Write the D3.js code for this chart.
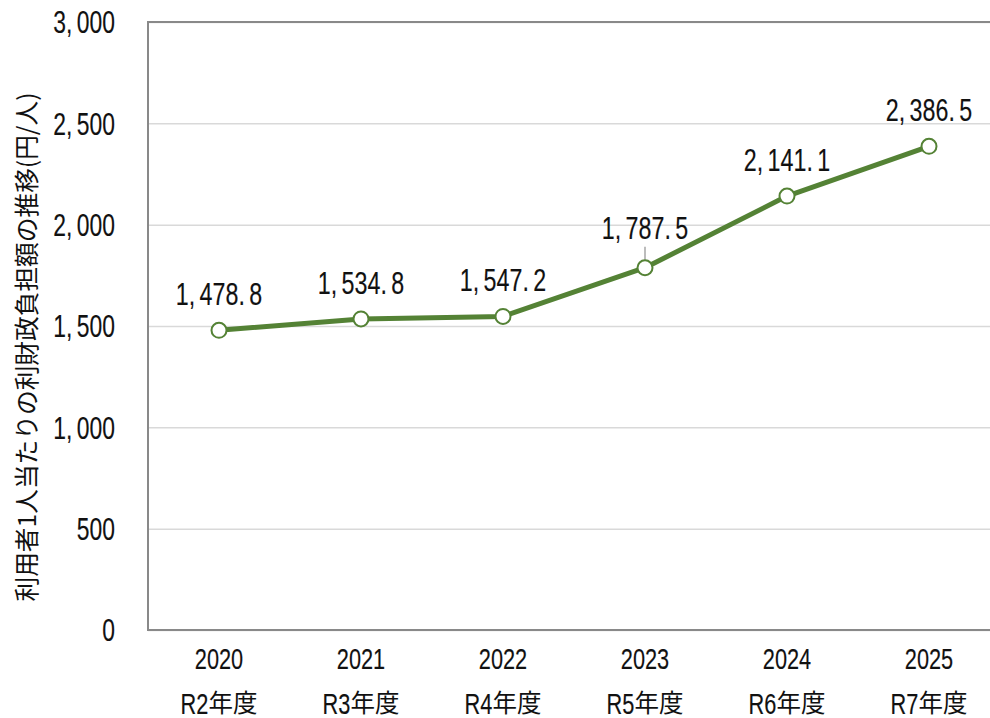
<!DOCTYPE html>
<html>
<head>
<meta charset="utf-8">
<script src="https://cdn.jsdelivr.net/npm/d3@7"></script>
<style>
  html, body { margin: 0; padding: 0; background: #fff; }
  svg { display: block; }
  .num { font-family: "Liberation Sans", Arial, sans-serif; fill: #111; stroke: #111; stroke-width: 0.15px; }
  .cjk { font-family: "Noto Sans CJK JP", "Noto Sans", sans-serif; fill: #111; }
</style>
</head>
<body>
<svg id="chart" width="990" height="718"></svg>
<script>
// ---- data ----
const years = ["2020", "2021", "2022", "2023", "2024", "2025"];
const eraLabels = ["R2", "R3", "R4", "R5", "R6", "R7"];
const eraSuffix = "年度";
const values = [1478.8, 1534.8, 1547.2, 1787.5, 2141.1, 2386.5];
const yTicks = [0, 500, 1000, 1500, 2000, 2500, 3000];
const yTitle = "利用者1人当たりの利財政負担額の推移(円/人)";

// ---- layout ----
const plot = { left: 148, right: 1000, top: 22, bottom: 630 };
const green = "#548235";
const SX = 0.75; // horizontal condensing of numeric font

const svg = d3.select("#chart");

const x = d3.scaleBand().domain(years).range([plot.left, plot.right]).paddingInner(0).paddingOuter(0);
const y = d3.scaleLinear().domain([0, 3000]).range([plot.bottom, plot.top]);
const cx = d => x(d) + x.bandwidth() / 2;

// split number text so that gaps appear after "," and "."
function numText(sel, str, gap) {
  const parts = str.match(/[^,.]*[,.]?/g).filter(s => s.length);
  parts.forEach((p, i) => {
    sel.append("tspan").attr("dx", i === 0 ? 0 : gap).text(p);
  });
}

// gridlines
const grid = svg.append("g")
  .attr("transform", `translate(${plot.left},0)`)
  .call(d3.axisLeft(y).tickValues(yTicks).tickSize(-(plot.right - plot.left)).tickFormat(""));
grid.select(".domain").remove();
grid.selectAll(".tick line").attr("stroke", "#d9d9d9").attr("stroke-width", 1.5);

// plot border
svg.append("rect")
  .attr("x", plot.left).attr("y", plot.top)
  .attr("width", plot.right - plot.left).attr("height", plot.bottom - plot.top)
  .attr("fill", "none").attr("stroke", "#898989").attr("stroke-width", 2);

// y axis labels
const yAxis = svg.append("g")
  .attr("transform", `translate(${plot.left},0)`)
  .call(d3.axisLeft(y).tickValues(yTicks).tickSize(0).tickPadding(33).tickFormat(""));
yAxis.select(".domain").remove();
yAxis.selectAll(".tick text").each(function(d) {
  const t = d3.select(this)
    .attr("class", "num")
    .attr("font-size", 30.5)
    .attr("text-anchor", "end")
    .attr("x", 0)
    .attr("dy", "0.36em")
    .attr("transform", `translate(-33,0) scale(${SX},1)`);
  numText(t, d3.format(",")(d), 6);
});

// x axis labels
const xAxis = svg.append("g")
  .attr("transform", `translate(0,${plot.bottom})`)
  .call(d3.axisBottom(x).tickSize(0).tickFormat(""));
xAxis.select(".domain").remove();
xAxis.selectAll(".tick text").remove();
xAxis.selectAll(".tick").each(function(d, i) {
  const g = d3.select(this);
  g.append("text").attr("class", "num").attr("font-size", 29)
    .attr("text-anchor", "middle")
    .attr("transform", `translate(0,38.5) scale(${SX},1)`)
    .text(d);
  const era = g.append("text").attr("class", "num").attr("font-size", 29)
    .attr("text-anchor", "start").text(eraLabels[i]);
  const suf = g.append("text").attr("class", "cjk").attr("font-size", 24.5)
    .attr("text-anchor", "start").text(eraSuffix);
  const w1 = era.node().getComputedTextLength() * SX;
  const w2 = suf.node().getComputedTextLength();
  const x0 = -(w1 + w2) / 2;
  era.attr("transform", `translate(${x0},83.5) scale(${SX},1)`);
  suf.attr("transform", `translate(${x0 + w1},82)`);
});

// y title
svg.append("text")
  .attr("class", "cjk")
  .attr("font-size", 24.7)
  .attr("text-anchor", "middle")
  .attr("dominant-baseline", "central")
  .attr("transform", "translate(25,347) rotate(-90)")
  .text(yTitle);

// line
const line = d3.line().x((d, i) => cx(years[i])).y(d => y(d));
svg.append("path")
  .datum(values)
  .attr("d", line)
  .attr("fill", "none")
  .attr("stroke", green)
  .attr("stroke-width", 5)
  .attr("stroke-linejoin", "round");

// leader line for the label that is lifted
const lifted = 3;
svg.append("line")
  .attr("x1", cx(years[lifted])).attr("x2", cx(years[lifted]))
  .attr("y1", y(values[lifted]) - 8).attr("y2", y(values[lifted]) - 21)
  .attr("stroke", "#a6a6a6").attr("stroke-width", 1.5);

// markers
svg.append("g").selectAll("circle")
  .data(values)
  .join("circle")
  .attr("cx", (d, i) => cx(years[i]))
  .attr("cy", d => y(d))
  .attr("r", 7.5)
  .attr("fill", "#fff")
  .attr("stroke", green)
  .attr("stroke-width", 2);

// data labels
svg.append("g").selectAll("text")
  .data(values)
  .join("text")
  .attr("class", "num")
  .attr("font-size", 31)
  .attr("text-anchor", "middle")
  .attr("transform", (d, i) => `translate(${cx(years[i])},${y(d) - (i === lifted ? 29 : 25)}) scale(${SX},1)`)
  .each(function(d) { numText(d3.select(this), d3.format(",.1f")(d), 6); });
</script>
</body>
</html>
